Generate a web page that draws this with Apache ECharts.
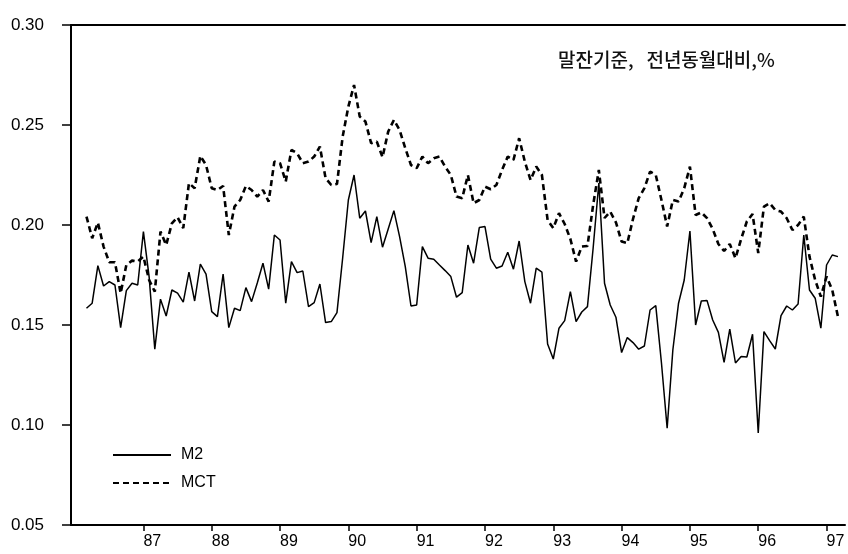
<!DOCTYPE html>
<html>
<head>
<meta charset="utf-8">
<script src="https://cdn.jsdelivr.net/npm/echarts@6/dist/echarts.min.js"></script>
<style>
  html, body { margin: 0; padding: 0; background: #fff; }
  #chart { width: 848px; height: 554px; }
</style>
</head>
<body>
<div id="chart"></div>
<script>
// monthly data, first point = March 1986
const startYear = 86
const startMonth = 3

const m2 = [
  0.1584, 0.1609, 0.1797, 0.1695, 0.1717, 0.1700, 0.1487, 0.1672, 0.1709, 0.1700,
  0.1967, 0.1742, 0.1379, 0.1629, 0.1545, 0.1675, 0.1659, 0.1614, 0.1764, 0.1620,
  0.1804, 0.1754, 0.1567, 0.1542, 0.1755, 0.1487, 0.1584, 0.1572, 0.1687, 0.1617,
  0.1710, 0.1809, 0.1679, 0.1950, 0.1925, 0.1609, 0.1817, 0.1762, 0.1770, 0.1592,
  0.1612, 0.1705, 0.1512, 0.1517, 0.1562, 0.1835, 0.2125, 0.2250, 0.2034, 0.2070,
  0.1912, 0.2042, 0.1889, 0.1980, 0.2072, 0.1942, 0.1792, 0.1595, 0.1600, 0.1892,
  0.1834, 0.1829, 0.1800, 0.1772, 0.1742, 0.1639, 0.1662, 0.1900, 0.1809, 0.1987,
  0.1992, 0.1829, 0.1784, 0.1795, 0.1864, 0.1779, 0.1920, 0.1717, 0.1609, 0.1784,
  0.1764, 0.1405, 0.1330, 0.1484, 0.1522, 0.1667, 0.1517, 0.1565, 0.1592, 0.1885,
  0.2210, 0.1709, 0.1600, 0.1539, 0.1362, 0.1437, 0.1412, 0.1379, 0.1395, 0.1575,
  0.1597, 0.1310, 0.0984, 0.1375, 0.1609, 0.1725, 0.1970, 0.1500, 0.1620, 0.1623,
  0.1525, 0.1463, 0.1313, 0.1479, 0.1310, 0.1343, 0.1340, 0.1454, 0.0960, 0.1467,
  0.1422, 0.1380, 0.1547, 0.1595, 0.1575, 0.1605, 0.1950, 0.1675, 0.1634, 0.1484,
  0.1800, 0.1850, 0.1842
]

const mct = [
  0.2042, 0.1934, 0.2012, 0.1892, 0.1814, 0.1814, 0.1659, 0.1800, 0.1822, 0.1817,
  0.1842, 0.1725, 0.1667, 0.1967, 0.1900, 0.2008, 0.2039, 0.1984, 0.2209, 0.2184,
  0.2345, 0.2300, 0.2184, 0.2175, 0.2195, 0.1950, 0.2092, 0.2125, 0.2195, 0.2175,
  0.2142, 0.2175, 0.2117, 0.2317, 0.2309, 0.2217, 0.2375, 0.2359, 0.2309, 0.2317,
  0.2342, 0.2392, 0.2234, 0.2200, 0.2205, 0.2442, 0.2592, 0.2700, 0.2542, 0.2517,
  0.2409, 0.2417, 0.2339, 0.2467, 0.2525, 0.2475, 0.2384, 0.2300, 0.2284, 0.2342,
  0.2309, 0.2334, 0.2342, 0.2292, 0.2250, 0.2142, 0.2134, 0.2250, 0.2109, 0.2125,
  0.2192, 0.2179, 0.2200, 0.2275, 0.2342, 0.2325, 0.2434, 0.2317, 0.2225, 0.2292,
  0.2250, 0.2025, 0.1984, 0.2059, 0.2005, 0.1930, 0.1817, 0.1892, 0.1895, 0.2100,
  0.2275, 0.2035, 0.2067, 0.2013, 0.1917, 0.1909, 0.2030, 0.2134, 0.2184, 0.2267,
  0.2250, 0.2125, 0.1992, 0.2125, 0.2117, 0.2184, 0.2292, 0.2050, 0.2063, 0.2034,
  0.1980, 0.1905, 0.1870, 0.1905, 0.1834, 0.1930, 0.2018, 0.2055, 0.1860, 0.2092,
  0.2109, 0.2075, 0.2067, 0.2034, 0.1975, 0.2000, 0.2042, 0.1842, 0.1725, 0.1642,
  0.1742, 0.1675, 0.1542
]

const yearTicks = [87, 88, 89, 90, 91, 92, 93, 94, 95, 96, 97]
const seriesNames = ['M2', 'MCT']
const note = '말잔기준,   전년동월대비,%'

const toPoints = (vals) => vals.map((v, i) => [startYear + (startMonth - 1 + i) / 12, v])

const font = '"Liberation Sans", Arial, sans-serif'
const chart = echarts.init(document.getElementById('chart'))

chart.setOption({
  animation: false,
  backgroundColor: '#fff',
  textStyle: { fontFamily: font, color: '#000' },
  title: {
    text: note,
    left: 553,
    top: 45,
    textStyle: {
      fontFamily: '"Noto Sans CJK KR", sans-serif',
      fontSize: 19,
      fontWeight: 500,
      color: '#111'
    }
  },
  legend: {
    orient: 'vertical',
    left: 107,
    top: 442,
    itemWidth: 58,
    itemHeight: 14,
    itemGap: 12,
    data: seriesNames,
    itemStyle: { opacity: 0 },
    textStyle: { fontSize: 16, color: '#000', padding: [0, 0, 8, 5] }
  },
  grid: { left: 71, right: 3, top: 25, bottom: 29 },
  xAxis: [
    {
      type: 'value',
      min: 85.94,
      max: 97.27,
      axisLine: { lineStyle: { color: '#000', width: 2 } },
      axisTick: {
        customValues: yearTicks,
        length: 6,
        lineStyle: { color: '#000', width: 1.5 }
      },
      axisLabel: {
        customValues: yearTicks,
        formatter: (v) => String(Math.round(v)),
        align: 'left',
        margin: 9,
        fontSize: 16,
        color: '#000'
      },
      splitLine: { show: false }
    },
    {
      type: 'value',
      position: 'top',
      min: 85.94,
      max: 97.27,
      axisLine: { show: true, lineStyle: { color: '#000', width: 2 } },
      axisTick: { show: false },
      axisLabel: { show: false },
      splitLine: { show: false }
    }
  ],
  yAxis: {
    type: 'value',
    min: 0.05,
    max: 0.30,
    interval: 0.05,
    axisLine: { show: true, lineStyle: { color: '#000', width: 2 } },
    axisTick: { length: 9, lineStyle: { color: '#000', width: 1.5 } },
    axisLabel: {
      formatter: (v) => v.toFixed(2),
      margin: 27,
      fontSize: 17,
      color: '#000',
      padding: [0, 0, 20, 0]
    },
    splitLine: { show: false }
  },
  series: [
    {
      name: seriesNames[0],
      type: 'line',
      symbol: 'none',
      itemStyle: { color: '#000' },
      data: toPoints(m2),
      lineStyle: { color: '#000', width: 1.5 }
    },
    {
      name: seriesNames[1],
      type: 'line',
      symbol: 'none',
      itemStyle: { color: '#000' },
      data: toPoints(mct),
      lineStyle: { color: '#000', width: 2.6, type: [6, 4] }
    }
  ]
})
</script>
</body>
</html>
